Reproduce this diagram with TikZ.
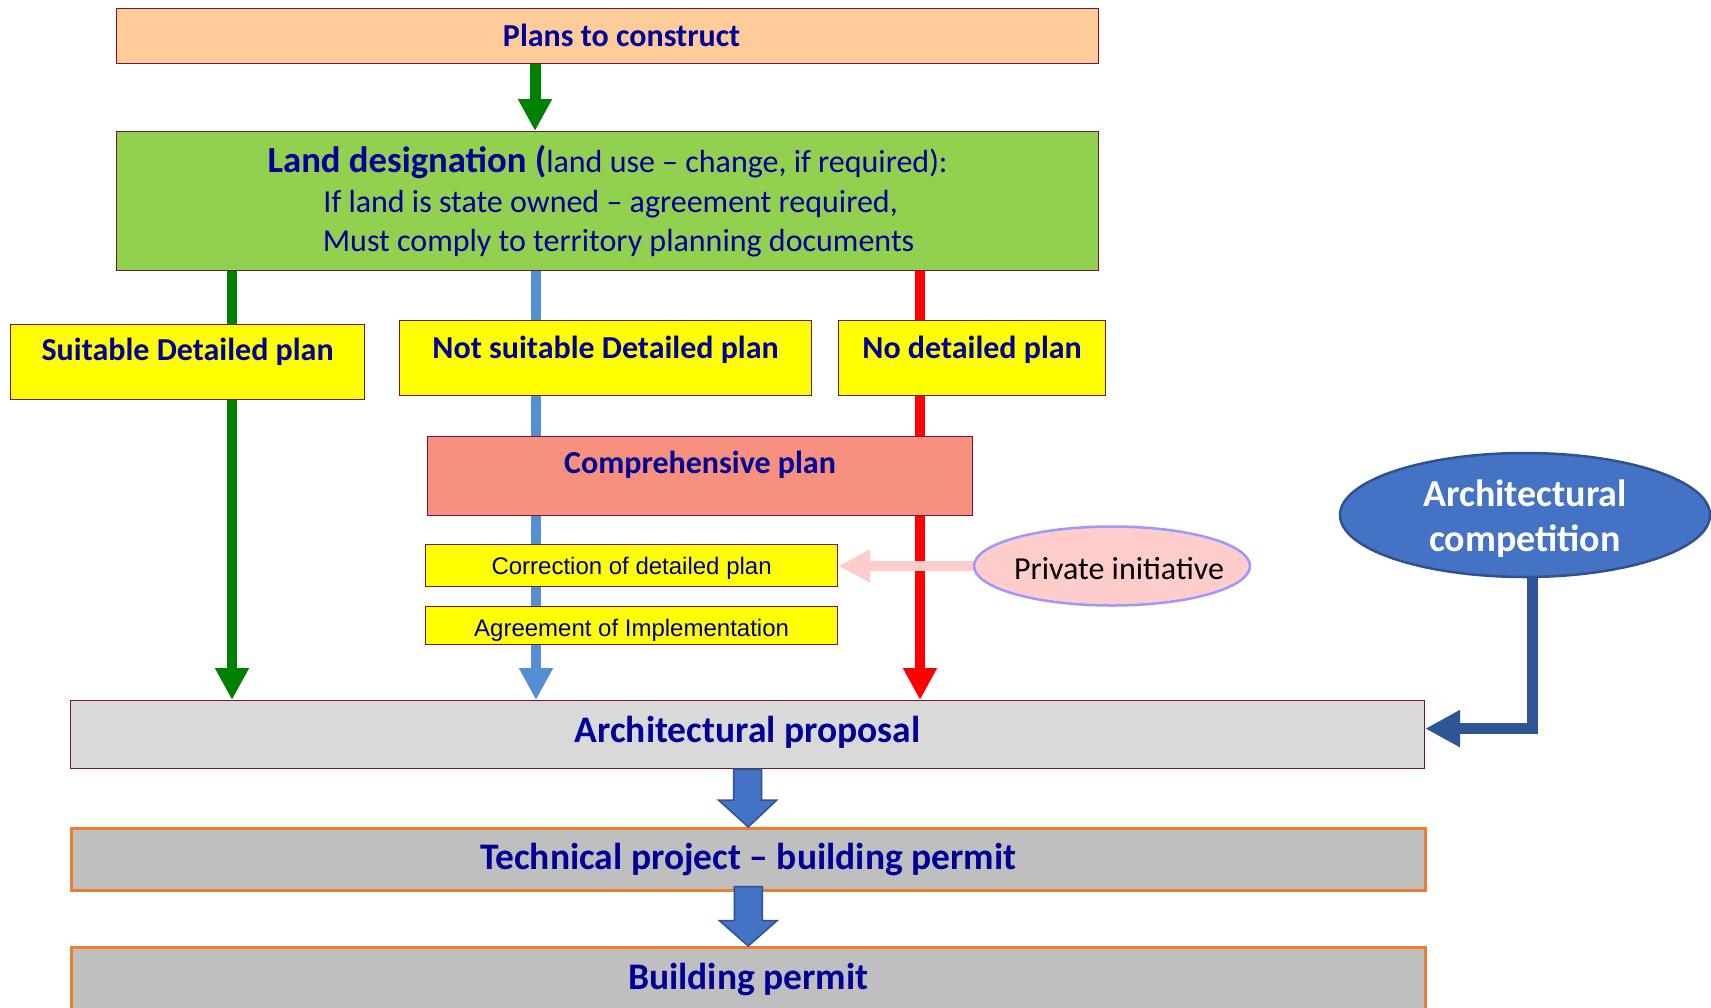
\documentclass[tikz,border=0pt]{standalone}
\usepackage{fontspec}
\setmainfont{Carlito}
\newfontfamily\arialfont{Liberation Sans}
\usetikzlibrary{arrows.meta,calc,backgrounds,shapes.geometric}
\definecolor{peach}{RGB}{255,204,153}
\definecolor{landgreen}{RGB}{146,208,80}
\definecolor{boxborder}{RGB}{120,20,60}
\definecolor{ylw}{RGB}{255,255,0}
\definecolor{salmon}{RGB}{247,145,125}
\definecolor{lgray}{RGB}{217,217,217}
\definecolor{mgray}{RGB}{191,191,191}
\definecolor{orng}{RGB}{237,125,49}
\definecolor{pinkfill}{RGB}{255,204,204}
\definecolor{periwinkle}{RGB}{153,153,255}
\definecolor{compblue}{RGB}{68,114,196}
\definecolor{compborder}{RGB}{47,82,143}
\definecolor{arrowdark}{RGB}{47,85,151}
\definecolor{lineblue}{RGB}{85,142,213}
\definecolor{lgreen}{RGB}{0,128,0}
\definecolor{navy}{RGB}{0,0,153}
\begin{document}
\begin{tikzpicture}[x=1pt,y=-1pt,
  basebox/.style={anchor=north west, inner sep=0pt, align=center, text=navy, line width=1.2pt},
  boldtxt/.style={font=\fontsize{#1}{#1}\selectfont\bfseries},
  ybox/.style={basebox, fill=ylw, draw=boxborder, boldtxt=32},
  smallbox/.style={basebox, fill=ylw, draw=boxborder, font=\arialfont\fontsize{24}{24}\selectfont, minimum width=412pt},
  graybox/.style={basebox, fill=mgray, draw=orng, line width=2.5pt, boldtxt=37.5, minimum width=1354pt},
  vline/.style={line width=10pt, -{Triangle[length=32pt,width=32pt]}},
  blk/.style={fill=compblue, draw=compborder, line width=1.5pt, line join=miter},
]
\useasboundingbox (0,0) rectangle (1711,1007);
\clip (0,0) rectangle (1711,1007);

% boxes
\node[basebox, fill=peach, draw=boxborder, boldtxt=32, minimum width=982pt, text height=38pt, text depth=17pt] (plans) at (116,8) {\hspace*{28pt}Plans to construct};

\node[basebox, fill=landgreen, draw=boxborder, minimum width=982pt, text height=120pt, text depth=19pt,
  font=\fontsize{32}{39.5}\selectfont] (land) at (116,131)
  {{\fontsize{36.7}{39.5}\selectfont\bfseries Land designation (}land use – change, if required):\\
   \hspace*{6pt}If land is state owned – agreement required,\\
   \hspace*{22pt}Must comply to territory planning documents};

\node[ybox, minimum width=354pt, text height=36pt, text depth=39pt] (suit) at (10,324) {Suitable Detailed plan};
\node[ybox, minimum width=412pt, text height=38pt, text depth=37pt] (nsuit) at (399,320) {Not suitable Detailed plan};
\node[ybox, minimum width=267pt, text height=38pt, text depth=37pt] (nodet) at (838,320) {No detailed plan};

\node[basebox, fill=salmon, draw=boxborder, boldtxt=32, minimum width=545pt, text height=37pt, text depth=42pt] (comp) at (427,436) {Comprehensive plan};

\node[smallbox, text height=30pt, text depth=12pt] (corr) at (425,544) {Correction of detailed plan};
\node[smallbox, text height=29.5pt, text depth=8.5pt] (agr) at (425,606) {Agreement of Implementation};

\node[ellipse, draw=periwinkle, fill=pinkfill, line width=2.5pt, minimum width=276pt, minimum height=79pt, inner xsep=-30pt, inner ysep=0pt,
  text height=26pt, text depth=0pt, font=\fontsize{32}{32}\selectfont] (priv) at (1112,566) {\hspace*{14pt}Private initiative};

\node[ellipse, draw=compborder, fill=compblue, line width=2.5pt, minimum width=370pt, minimum height=124pt, inner sep=0pt,
  align=center, text=white, text height=73pt, text depth=0pt, font=\fontsize{38}{45}\selectfont\bfseries] (ac) at (1525,515) {Architectural\\competition};

\node[basebox, fill=lgray, draw=boxborder, boldtxt=37.5, minimum width=1354pt, text height=42pt, text depth=26pt] (ap) at (70,700) {Architectural proposal};
\node[graybox, text height=41pt, text depth=21pt] (tp) at (70,827) {Technical project – building permit};
\node[graybox, text height=42pt, text depth=30pt] (bp) at (70,946) {Building permit};

% reference x positions
\coordinate (tx) at (535,0);
\coordinate (gx) at (232,0);
\coordinate (bx) at (536,0);
\coordinate (rx) at (920,0);
\coordinate (cx) at (1532,0);

\begin{scope}[on background layer]
  \draw[vline, lgreen] (land.south -| gx) -- (ap.north -| gx);
  \draw[vline, lineblue] (land.south -| bx) -- (ap.north -| bx);
  \draw[vline, red] (land.south -| rx) -- (ap.north -| rx);
  \draw[line width=11pt, arrowdark, line join=miter, -{Triangle[length=35pt,width=35pt]}]
    (ac.south -| cx) |- ($(ap.east)+(0,-6)$);
\end{scope}

% top arrow
\draw[line width=11pt, lgreen, -{Triangle[length=32pt,width=32pt]}] (plans.south -| tx) -- (land.north -| tx);

% private initiative arrow (over the red line)
\draw[line width=10pt, pinkfill, -{Triangle[length=32pt,width=31pt]}] (priv.west) -- (priv.west -| corr.east);

% block arrows
\draw[blk] ($(ap.south)+(-14,0)$) -- ($(ap.south)+(-14,31)$) -- ($(ap.south)+(-29,31)$) -- (tp.north)
  -- ($(ap.south)+(29,31)$) -- ($(ap.south)+(14,31)$) -- ($(ap.south)+(14,0)$) -- cycle;
\draw[blk] ($(tp.south)+(-14,-5)$) -- ($(tp.south)+(-14,29)$) -- ($(tp.south)+(-29,29)$) -- (bp.north)
  -- ($(tp.south)+(29,29)$) -- ($(tp.south)+(14,29)$) -- ($(tp.south)+(14,-5)$) -- cycle;
\end{tikzpicture}
\end{document}
